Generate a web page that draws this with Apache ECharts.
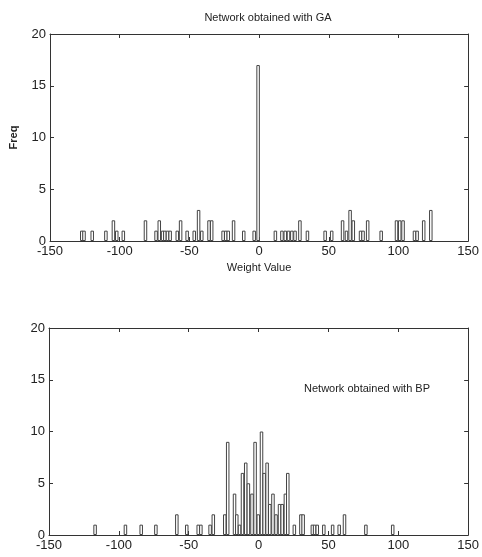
<!DOCTYPE html>
<html>
<head>
<meta charset="utf-8">
<script src="https://cdn.jsdelivr.net/npm/echarts@6/dist/echarts.min.js"></script>
<style>html,body{margin:0;padding:0;background:#fff}#c{width:482px;height:557px}</style>
</head>
<body>
<div id="c"></div>
<script>
// Top chart (GA): bar centre weight values and frequencies
const gaWeights = [-127.2,-125.6,-119.7,-109.9,-104.5,-102.1,-97.4,-81.5,-73.9,-71.6,-69.2,-67.6,-65.7,-63.8,-58.7,-56.3,-51.6,-46.5,-43.4,-41.1,-35.9,-34.0,-25.8,-23.9,-22.1,-18.3,-11.0,-3.5,-0.7,11.7,16.4,18.8,21.1,23.5,25.8,29.3,34.7,47.4,52.1,59.9,62.7,65.3,67.6,72.8,74.6,77.9,87.6,98.6,100.9,103.3,111.5,113.4,118.1,123.2];
const gaFreq    = [1,1,1,1,2,1,1,2,1,2,1,1,1,1,1,2,1,1,3,1,2,2,1,1,1,2,1,1,17,1,1,1,1,1,1,2,1,1,1,2,1,3,2,1,1,2,1,2,2,2,1,1,2,3];
// Bottom chart (BP)
const bpWeights = [-117.0,-95.3,-84.0,-73.5,-58.5,-51.4,-43.2,-41.3,-34.7,-32.4,-24.2,-22.1,-17.2,-15.6,-13.6,-11.5,-9.2,-7.3,-4.7,-2.5,-0.2,2.1,4.0,6.1,8.0,10.3,12.5,15.0,16.9,19.2,20.9,25.6,30.3,31.9,38.5,40.1,42.0,46.7,53.0,57.7,61.5,76.8,96.0];
const bpFreq    = [1,1,1,1,2,1,1,1,1,2,2,9,4,2,1,6,7,5,4,9,2,10,6,7,3,4,2,3,3,4,6,1,2,2,1,1,1,1,1,1,2,1,1];
const xTicks = [-150,-100,-50,0,50,100,150];
const yTicks = [0,5,10,15,20];
const titleGA = 'Network obtained with GA';
const titleBP = 'Network obtained with BP';
const xName = 'Weight Value';
const yName = 'Freq';

const FONT = "'Liberation Sans Narrow','Liberation Sans',Arial,sans-serif";
const chart = echarts.init(document.getElementById('c'));

function pairs(xs, ys){ return xs.map((x,i)=>[x, ys[i]]); }

function xAx(grid, showLabels, name, pos){
  return {
    type:'value', gridIndex:grid, min:xTicks[0], max:xTicks[xTicks.length-1], interval:50,
    position:pos,
    name: name || '', nameLocation:'middle', nameGap:21,
    nameTextStyle:{fontFamily:FONT, fontSize:11, color:'#222'},
    axisLine:{show:true, onZero:false, lineStyle:{color:'#333', width:1}},
    axisTick:{show:true, inside:true, length:4, lineStyle:{color:'#333'}},
    axisLabel:{show:showLabels, fontFamily:FONT, fontSize:13, color:'#222', margin:4},
    splitLine:{show:false}
  };
}
function yAx(grid, showLabels, name, pos){
  return {
    type:'value', gridIndex:grid, min:yTicks[0], max:yTicks[yTicks.length-1], interval:5, position:pos,
    name: name || '', nameLocation:'middle', nameGap:31,
    nameTextStyle:{fontFamily:FONT, fontSize:11, color:'#222', fontWeight:'bold'},
    axisLine:{show:true, onZero:false, lineStyle:{color:'#333', width:1}},
    axisTick:{show:true, inside:true, length:4, lineStyle:{color:'#333'}},
    axisLabel:{show:showLabels, fontFamily:FONT, fontSize:13, color:'#222', margin:4},
    splitLine:{show:false}
  };
}

const barStyle = {color:'#fff', borderColor:'#444', borderWidth:1};

chart.setOption({
  animation:false,
  backgroundColor:'#fff',
  title:[
    {text:titleGA, left:263, top:7, textAlign:'center',
     textStyle:{fontFamily:FONT, fontSize:11, fontWeight:'normal', color:'#222'}},
    {text:titleBP, left:362, top:378, textAlign:'center',
     textStyle:{fontFamily:FONT, fontSize:11, fontWeight:'normal', color:'#222'}}
  ],
  grid:[
    {left:47, top:34, width:426, height:207},
    {left:49, top:328, width:426, height:207}
  ],
  xAxis:[
    xAx(0, true, xName, 'bottom'),
    xAx(0, false, '', 'top'),
    xAx(1, true, '', 'bottom'),
    xAx(1, false, '', 'top')
  ],
  yAxis:[
    yAx(0, true, yName, 'left'),
    yAx(0, false, '', 'right'),
    yAx(1, true, '', 'left'),
    yAx(1, false, '', 'right')
  ],
  series:[
    {type:'bar', xAxisIndex:0, yAxisIndex:0, barWidth:3.5, itemStyle:barStyle,
     data:pairs(gaWeights, gaFreq)},
    {type:'bar', xAxisIndex:2, yAxisIndex:2, barWidth:3.5, itemStyle:barStyle,
     data:pairs(bpWeights, bpFreq)}
  ]
});
</script>
</body>
</html>
